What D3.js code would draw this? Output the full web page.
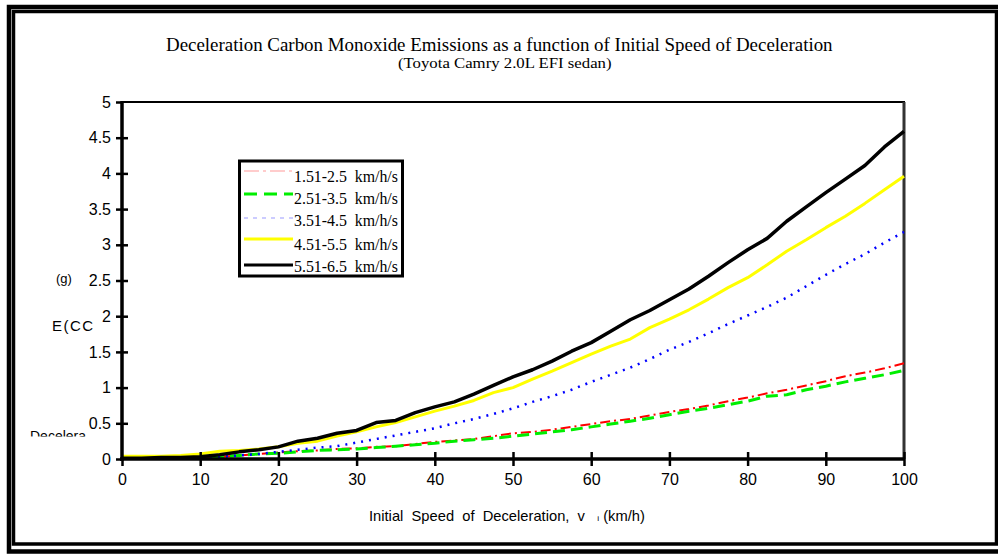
<!DOCTYPE html>
<html><head><meta charset="utf-8">
<script src="https://cdn.jsdelivr.net/npm/d3@7/dist/d3.min.js"></script>
<style>html,body{margin:0;padding:0;background:#fff;overflow:hidden}</style>
</head><body><svg id="c" width="998" height="555"></svg>
<script>
const speeds = [0,2.5,5,7.5,10,12.5,15,17.5,20,22.5,25,27.5,30,32.5,35,37.5,40,42.5,45,47.5,50,52.5,55,57.5,60,62.5,65,67.5,70,72.5,75,77.5,80,82.5,85,87.5,90,92.5,95,97.5,100];
const s1 = [0.01,0.01,0.01,0.01,0.02,0.03,0.05,0.07,0.09,0.11,0.12,0.14,0.15,0.17,0.18,0.21,0.24,0.26,0.28,0.32,0.36,0.38,0.41,0.45,0.49,0.53,0.56,0.61,0.66,0.70,0.75,0.81,0.86,0.92,0.97,1.03,1.09,1.16,1.21,1.27,1.34];
const s2 = [0.01,0.01,0.01,0.01,0.02,0.03,0.05,0.07,0.08,0.10,0.12,0.13,0.14,0.16,0.18,0.20,0.22,0.25,0.27,0.29,0.32,0.35,0.38,0.41,0.45,0.49,0.53,0.57,0.62,0.67,0.71,0.76,0.81,0.88,0.90,0.97,1.02,1.08,1.13,1.18,1.24];
const s3 = [0.02,0.02,0.02,0.02,0.02,0.03,0.05,0.07,0.10,0.13,0.16,0.18,0.23,0.28,0.33,0.38,0.43,0.50,0.56,0.63,0.71,0.80,0.88,0.97,1.08,1.18,1.28,1.40,1.53,1.64,1.76,1.89,2.01,2.13,2.26,2.42,2.58,2.73,2.87,3.03,3.18];
const s4 = [0.04,0.04,0.04,0.05,0.07,0.11,0.12,0.14,0.17,0.22,0.25,0.32,0.38,0.45,0.51,0.59,0.67,0.74,0.82,0.93,1.00,1.12,1.23,1.35,1.47,1.58,1.68,1.84,1.96,2.09,2.24,2.40,2.54,2.72,2.91,3.07,3.24,3.40,3.58,3.77,3.96];
const s5 = [0.01,0.01,0.02,0.02,0.03,0.06,0.10,0.13,0.17,0.25,0.29,0.36,0.40,0.51,0.54,0.65,0.73,0.80,0.91,1.03,1.15,1.25,1.37,1.51,1.63,1.79,1.95,2.08,2.23,2.38,2.56,2.75,2.93,3.09,3.33,3.53,3.73,3.92,4.11,4.37,4.59];
const seriesNames = ["1.51-2.5  km/h/s","2.51-3.5  km/h/s","3.51-4.5  km/h/s","4.51-5.5  km/h/s","5.51-6.5  km/h/s"];
const xTicks = [0,10,20,30,40,50,60,70,80,90,100];
const yTicks = [0,0.5,1,1.5,2,2.5,3,3.5,4,4.5,5];
const titleText = "Deceleration Carbon Monoxide Emissions as a function of Initial Speed of Deceleration";
const subtitleText = "(Toyota Camry 2.0L EFI sedan)";

const styles = [
  {color:"#ff0000", w:2, dash:"10,4,2,4", lw:1, lcolor:"#ff9999"},
  {color:"#00ee00", w:3, dash:"12,6", lw:3, lcolor:"#00ee00"},
  {color:"#0000ff", w:2.5, dash:"2,6", lw:1, lcolor:"#9999ff"},
  {color:"#ffff00", w:3, dash:null, lw:3, lcolor:"#ffff00"},
  {color:"#000000", w:3.5, dash:null, lw:3, lcolor:"#000000"}
];
const allSeries = [s1,s2,s3,s4,s5];

const svg = d3.select("#c");
const L=122, R=904, T=102, B=459;
const x = d3.scaleLinear().domain([0,100]).range([L,R]);
const y = d3.scaleLinear().domain([0,5]).range([B,T]);
const serif = "'Liberation Serif','Times New Roman',Times,serif";
const sans = "'Liberation Sans',Arial,sans-serif";

function fit(t, x0, w){
  const bw = t.node().getBBox().width;
  const s = w / bw;
  t.attr("transform",`translate(${x0},0) scale(${s},1) translate(${-x0},0)`);
}

// frames
svg.append("rect").attr("x",9).attr("y",7).attr("width",995).attr("height",544.5)
  .attr("fill","none").attr("stroke","#000").attr("stroke-width",4.5);
svg.append("rect").attr("x",13.5).attr("y",11.5).attr("width",983).attr("height",532.5)
  .attr("fill","none").attr("stroke","#000").attr("stroke-width",3.5);

// title
const tt = svg.append("text").attr("x",166).attr("y",51)
  .style("font-family",serif).style("font-size","18.5px").text(titleText);
fit(tt,166,667);
const st = svg.append("text").attr("x",398).attr("y",68)
  .style("font-family",serif).style("font-size","14.5px").text(subtitleText);
fit(st,398,214);

// plot frame top/right
svg.append("line").attr("x1",L).attr("x2",R+1).attr("y1",T).attr("y2",T).attr("stroke","#000").attr("stroke-width",2);
svg.append("line").attr("x1",R).attr("x2",R).attr("y1",T).attr("y2",B).attr("stroke","#333").attr("stroke-width",3);

// lines
const line = d3.line().x((d,i)=>x(speeds[i])).y(d=>y(d));
allSeries.forEach((s,k)=>{
  const p = svg.append("path").datum(s).attr("d",line).attr("fill","none")
    .attr("stroke",styles[k].color).attr("stroke-width",styles[k].w).attr("stroke-linejoin","round");
  if(styles[k].dash) p.attr("stroke-dasharray",styles[k].dash);
});

// axes
const yAxis = d3.axisLeft(y).tickValues(yTicks).tickSize(6).tickPadding(5).tickFormat(d=>d3.format("")(d));
const gy = svg.append("g").attr("transform",`translate(${L},0)`).call(yAxis);
const xAxis = d3.axisBottom(x).tickValues(xTicks).tickSize(7).tickPadding(8);
const gx = svg.append("g").attr("transform",`translate(0,${B})`).call(xAxis);
[gx,gy].forEach(g=>{
  g.select(".domain").attr("stroke","#000").attr("stroke-width",3.5);
  g.selectAll(".tick line").attr("stroke","#000").attr("stroke-width",2.5);
  g.selectAll(".tick text").style("font-family",sans).style("font-size","16px").attr("fill","#000");
});
gy.select(".domain").attr("d",`M0,${B+2}V${T-1}`);
gx.select(".domain").attr("d",`M${L-2},0H${R+1}`);
gy.selectAll(".tick").filter(d=>d<5&&d>0).select("line").attr("x2",-6).attr("x1",6);
gx.selectAll(".tick").filter(d=>d>0).select("line").attr("y1",-7).attr("y2",7);
gx.selectAll(".tick text").attr("dy","0.71em");

// x axis title
const xt = svg.append("text").attr("x",369).attr("y",521)
  .style("font-family",sans).style("font-size","14px").attr("xml:space","preserve").style("white-space","pre");
xt.append("tspan").text("Initial  Speed  of  Deceleration,  v   ");
xt.append("tspan").style("font-size","8px").text("i");
xt.append("tspan").text(" (km/h)");
fit(xt,369,276);

// broken y title fragments
svg.append("text").attr("x",56).attr("y",283).style("font-family",sans).style("font-size","13px").text("(g)");
svg.append("text").attr("x",52).attr("y",331).style("font-family",sans).style("font-size","15px").style("letter-spacing","1.5px").text("E(CC");
svg.append("clipPath").attr("id","cl").append("rect").attr("x",20).attr("y",420).attr("width",100).attr("height",16.5);
svg.append("text").attr("x",30).attr("y",441).attr("clip-path","url(#cl)").style("font-family",sans).style("font-size","14px").text("Decelera");

// legend
const lg = svg.append("g");
lg.append("rect").attr("x",239.5).attr("y",161).attr("width",163).attr("height",115).attr("fill","#fff").attr("stroke","#000").attr("stroke-width",3);
const lys = [171,194,218,239,265];
const tys = [182,204,226,250,272];
seriesNames.forEach((n,k)=>{
  const ln = lg.append("line").attr("x1",244).attr("x2",293).attr("y1",lys[k]).attr("y2",lys[k])
    .attr("stroke",styles[k].lcolor).attr("stroke-width",styles[k].lw);
  if(k===0) ln.attr("stroke-dasharray","15,4,3,4");
  if(k===1) ln.attr("stroke-dasharray","13,7");
  if(k===2) ln.attr("stroke-dasharray","4,5");
  const t = lg.append("text").attr("x",294).attr("y",tys[k]).attr("xml:space","preserve").style("white-space","pre")
    .style("font-family",serif).style("font-size","16px").text(n);
  fit(t,294,104);
});
</script></body></html>
